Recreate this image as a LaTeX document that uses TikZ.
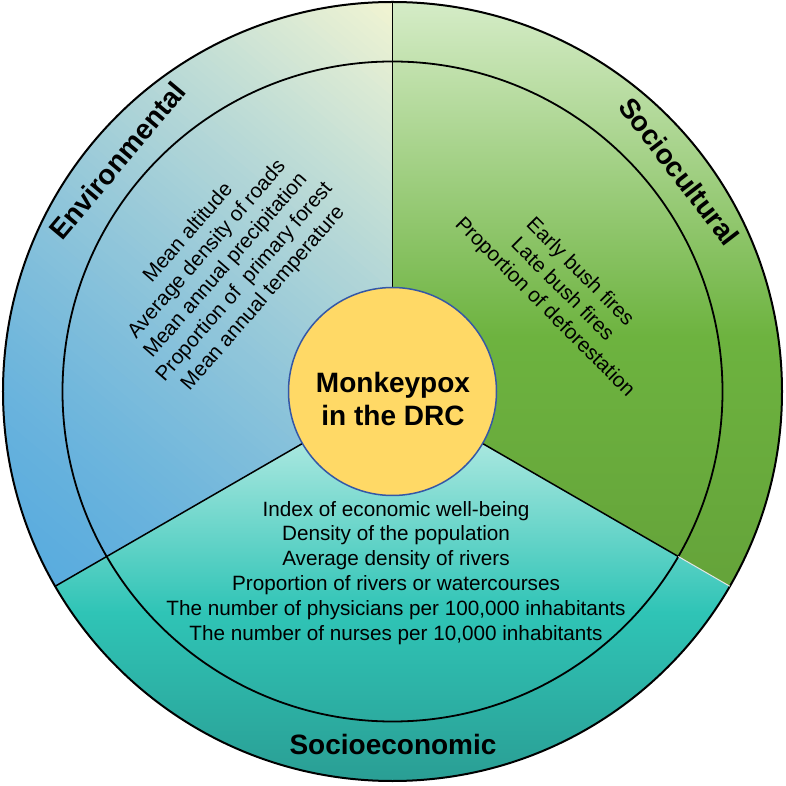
\documentclass[tikz,border=0pt]{standalone}
\usepackage{fontspec}
\setmainfont{Liberation Sans}
\definecolor{envtop}{HTML}{F1F4D2}
\definecolor{envbot}{HTML}{5AACDE}
\definecolor{grtop}{HTML}{D5ECC7}
\definecolor{grmid}{HTML}{6DB33F}
\definecolor{grbot}{HTML}{629E38}
\definecolor{tltop}{HTML}{A8E7DF}
\definecolor{tlmid}{HTML}{2FC4B6}
\definecolor{tlbot}{HTML}{2A9E94}
\definecolor{corefill}{HTML}{FFD966}
\definecolor{coreedge}{HTML}{3457A6}
\begin{document}
\begin{tikzpicture}[x=1pt,y=1pt,
  ring/.style={draw=black, line width=1.8pt},
  divider/.style={draw=black, line width=1.5pt},
  title/.style={font=\fontsize{28}{33}\selectfont\bfseries, inner sep=0pt},
  factors/.style={font=\fontsize{20.7}{24.8}\selectfont, align=center, inner sep=0pt},
]
\def\Ro{389.5}
\def\Ri{330}
\useasboundingbox (-392.5,-394.5) rectangle (393.5,391.5);

% Environmental wedge: diagonal gradient built from thin bands
\begin{scope}
\clip (0,0) -- (90:\Ro) arc[start angle=90,end angle=210,radius=\Ro] -- cycle;
\begin{scope}[rotate=-40]
\foreach \i in {0,...,89}{
  \pgfmathsetmacro\p{100*pow((\i+0.001)/89.001,1.3)}
  \pgfmathsetmacro\ya{-368+7.4222*\i}
  \pgfmathsetmacro\yb{\ya+8.3}
  \fill[envtop!\p!envbot] (-430,\ya) rectangle (430,\yb);
}
\end{scope}
\end{scope}

% Sociocultural wedge
\begin{scope}
\clip (0,0) -- (-30:\Ro) arc[start angle=-30,end angle=90,radius=\Ro] -- cycle;
\shade[top color=grtop, bottom color=grbot, middle color=grmid] (0,-280) rectangle (400,389.5);
\end{scope}

% Socioeconomic wedge
\begin{scope}
\clip (0,0) -- (210:\Ro) arc[start angle=210,end angle=330,radius=\Ro] -- cycle;
\shade[top color=tltop, bottom color=tlbot, middle color=tlmid] (-400,-390) rectangle (400,-52);
\end{scope}

% rings
\draw[ring] (0,0) circle[radius=\Ri];
\draw[ring, line width=2pt] (0,0) circle[radius=\Ro];

% dividers
\coordinate (o) at (0,0);
\coordinate (topend) at (90:\Ro);
\coordinate (leftend) at (210:\Ro);
\coordinate (rightmid) at (330:\Ri);
\coordinate (rightend) at (330:\Ro);
\draw[divider] (o) -- (topend);
\draw[divider] (o) -- (leftend);
\draw[divider] (o) -- (rightmid);
\draw[draw=gray!20, line width=1pt] (rightmid) -- (rightend);

% core
\node[circle, fill=corefill, draw=coreedge, line width=1.5pt, minimum size=208pt, inner sep=0pt, outer sep=0pt] (core) at (0,0) {};
\node[title, align=center] (coretext) at (0.5,-7.5) {Monkeypox\\in the DRC};

% titles
\node[title, rotate=50] (envtitle) at (140:359) {Environmental};
\node[title, rotate=-52.5] (soctitle) at (37.5:361.5) {Sociocultural};
\node[title] (ecotitle) at (0.5,-352.5) {Socioeconomic};

% factor lists
\node[factors, rotate=49] (envlist) at (-166.5,125.5) {Mean altitude\\Average density of roads\\Mean annual precipitation\\Proportion of~ primary forest\\Mean annual temperature};
\node[factors, rotate=-45] (soclist) at (169.5,101.5) {Early bush fires\\Late bush fires\\Proportion of deforestation};
\node[factors] (ecolist) at (3.5,-181.2) {Index of economic well-being\\Density of the population\\Average density of rivers\\Proportion of rivers or watercourses\\The number of physicians per 100,000 inhabitants\\The number of nurses per 10,000 inhabitants};
\end{tikzpicture}
\end{document}
